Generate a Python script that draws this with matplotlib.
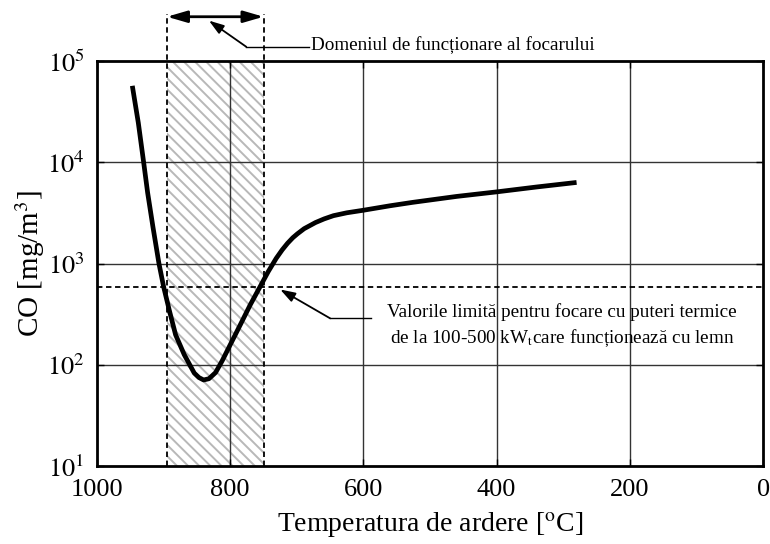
import matplotlib.pyplot as plt

plt.rcParams['font.family'] = ['Liberation Serif', 'DejaVu Serif']
plt.rcParams['mathtext.fontset'] = 'stix'
plt.rcParams['hatch.linewidth'] = 1.4
plt.rcParams['hatch.color'] = '#b8b8b8'

# curve: temperature [C] -> CO [mg/m3]
temp = [947, 938, 930, 924, 916, 907, 900, 891, 882, 869, 854, 847, 840, 832, 822, 812,
        800, 785, 770, 756, 743, 731, 722, 714, 706, 699, 689, 672, 659, 645, 625, 600,
        560, 526, 460, 400, 340, 280]
co = [56800, 24500, 10000, 5000, 2290, 1000, 590, 336, 198, 126, 83, 75, 71, 73, 84, 110,
      158, 248, 391, 578, 832, 1125, 1365, 1585, 1800, 1970, 2210, 2540, 2760, 2970, 3170, 3360,
      3720, 4020, 4600, 5100, 5700, 6320]

zone = [895, 750]          # domeniul de functionare
co_limit = 590             # valoarea limita
x_ticks = [1000, 800, 600, 400, 200, 0]
y_ticks = [1e1, 1e2, 1e3, 1e4, 1e5]
y_ticklabels = ['$10^1$', '$10^2$', '$10^3$', '$10^4$', '$10^5$']

fig = plt.figure(figsize=(7.7, 5.44), dpi=100)
ax = fig.add_axes([0.126, 0.143, 0.865, 0.745])
ax.set_yscale('log')
ax.set_xlim(1000, 0)
ax.set_ylim(1e1, 1e5)

for xv in x_ticks[1:-1]:
    ax.axvline(xv, color='#333333', lw=1.0, zorder=1)
for yv in y_ticks[1:-1]:
    ax.axhline(yv, color='#333333', lw=1.0, zorder=1)

# hatched zone
ax.axvspan(zone[1], zone[0], facecolor='none', edgecolor='#b8b8b8', hatch='\\\\\\', lw=0, zorder=0)
top_y = 2.9e5
for xv in zone:
    ax.plot([xv, xv], [1e1, top_y], color='black', ls=(0, (3, 2)), lw=1.3, clip_on=False, zorder=3)

ax.axhline(co_limit, color='black', ls=(0, (3, 2)), lw=1.3, zorder=3)

ax.plot(temp, co, color='black', lw=3.4, solid_joinstyle='round', solid_capstyle='butt', zorder=4)

# double arrow above the zone
ax.annotate('', xy=(zone[1], 2.73e5), xytext=(zone[0], 2.73e5), annotation_clip=False,
            arrowprops=dict(arrowstyle='<|-|>,head_length=1.2,head_width=0.35', color='black', lw=2, shrinkA=0, shrinkB=0))

# label for zone
ax.plot([681, 776], [1.38e5, 1.38e5], color='black', lw=1, clip_on=False)
ax.annotate('', xy=(832, 2.5e5), xytext=(776, 1.38e5), annotation_clip=False,
            arrowprops=dict(arrowstyle='-|>,head_length=0.9,head_width=0.3', color='black', lw=1.3, shrinkA=0, shrinkB=0))
ax.text(678, 1.44e5, 'Domeniul de funcționare al focarului', fontsize=13.8, va='center', ha='left')

# label for limit line
ax.plot([650, 588], [288, 288], color='black', lw=1)
ax.annotate('', xy=(725, 555), xytext=(650, 288),
            arrowprops=dict(arrowstyle='-|>,head_length=0.9,head_width=0.3', color='black', lw=1.3, shrinkA=0, shrinkB=0))
ax.text(302, 240, 'Valorile limită pentru focare cu puteri termice\nde la 100-500 kW$_{\\rm t}$care funcționează cu lemn',
        fontsize=13.8, ha='center', va='center', linespacing=1.4)

ax.set_xticks(x_ticks)
ax.set_xticklabels([str(v) for v in x_ticks])
ax.set_yticks(y_ticks)
ax.set_yticklabels(y_ticklabels)
ax.minorticks_off()
ax.tick_params(direction='in', length=5, width=1, labelsize=19, pad=9, top=True, right=True)

for s in ax.spines.values():
    s.set_linewidth(2)

ax.set_xlabel('Temperatura de ardere [$^{\\rm o}$C]', fontsize=20, labelpad=7)
ax.set_ylabel('CO [mg/m$^3$]', fontsize=21, labelpad=0)

fig.savefig('out.png', dpi=100)
